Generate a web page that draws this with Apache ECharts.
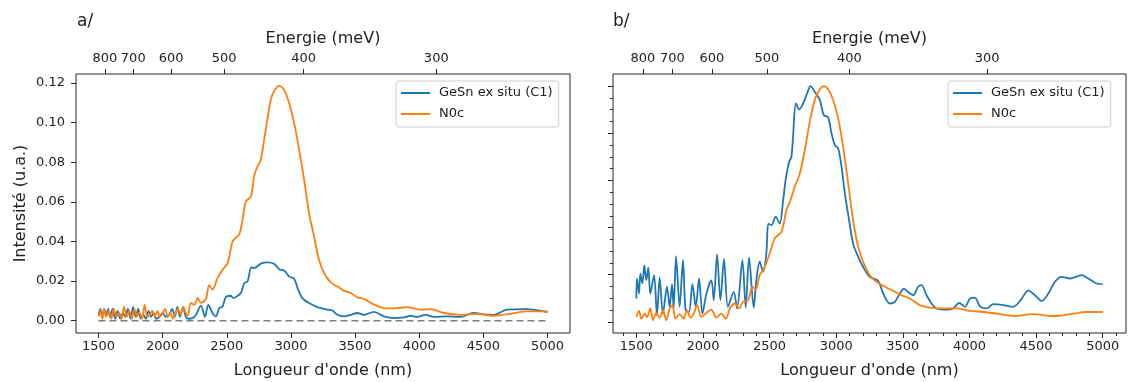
<!DOCTYPE html>
<html>
<head>
<meta charset="utf-8">
<script src="https://cdn.jsdelivr.net/npm/echarts@6/dist/echarts.min.js"></script>
<style>
html,body{margin:0;padding:0;background:#fff;}
#chart{width:1129px;height:382px;}
</style>
</head>
<body>
<div id="chart"></div>
<script>
// ---------- data ----------
const seriesNames = ['GeSn ex situ (C1)', 'N0c'];

// Panel a/ : raw intensity
const wlBlueA = [1500,1515,1530,1545,1560,1575,1590,1610,1630,1650,1670,1690,1710,1730,1750,1770,1790,1810,1830,1850,1870,1890,1910,1930,1950,1975,2000,2025,2050,2075,2095,2115,2135,2160,2180,2200,2234,2260,2299,2330,2356,2389,2415,2441,2467,2493,2532,2550,2571,2610,2636,2662,2692,2713,2765,2817,2869,2908,2947,2986,3025,3056,3089,3141,3206,3284,3323,3362,3414,3466,3518,3569,3647,3725,3803,3881,3932,3984,4049,4114,4217,4321,4425,4503,4580,4684,4840,5000];
const blueA = [0.003,0.006,0.002,0.006,0.003,0.006,0.002,0.006,0.001,0.005,0.001,0.004,0.002,0.006,0.001,0.007,0.002,0.006,0.001,0.003,0.001,0.005,0.002,0.004,0.001,0.002,0.004,0.002,0.003,0.006,0.002,0.007,0.002,0.007,0.002,0.001,0.0013,0.003,0.0076,0.002,0.008,0.0039,0.0022,0.0064,0.0072,0.012,0.0126,0.0115,0.012,0.014,0.019,0.0199,0.027,0.0266,0.0288,0.0295,0.0288,0.026,0.0254,0.0224,0.0212,0.0157,0.0114,0.0089,0.0069,0.0056,0.0052,0.003,0.0022,0.003,0.0039,0.003,0.0045,0.0022,0.0013,0.0017,0.0025,0.0019,0.003,0.0019,0.0022,0.0019,0.0039,0.0032,0.003,0.0056,0.0059,0.0044];

const wlOrangeA = [1500,1515,1530,1545,1560,1580,1600,1620,1640,1660,1680,1700,1720,1740,1760,1780,1800,1820,1840,1860,1880,1900,1920,1940,1960,1980,2000,2020,2040,2060,2080,2100,2120,2140,2160,2180,2195,2221,2247,2273,2299,2337,2363,2389,2428,2467,2506,2545,2571,2597,2623,2649,2688,2713,2740,2765,2800,2843,2870,2908,2947,2986,3025,3064,3103,3141,3180,3219,3258,3310,3362,3414,3466,3518,3569,3647,3725,3803,3906,4010,4088,4191,4321,4451,4580,4710,4840,5000];
const orangeA = [0.002,0.005,0.001,0.006,0.002,0.005,0.001,0.006,0.002,0.004,0.001,0.007,0.002,0.005,0.001,0.006,0.002,0.004,0.001,0.008,0.002,0.003,0.005,0.002,0.005,0.002,0.004,0.006,0.002,0.004,0.001,0.004,0.006,0.003,0.007,0.004,0.0025,0.009,0.008,0.0115,0.009,0.011,0.018,0.0157,0.0215,0.0257,0.029,0.04,0.042,0.0434,0.051,0.0602,0.0628,0.0729,0.078,0.0813,0.095,0.1116,0.116,0.1187,0.1166,0.11,0.0998,0.0863,0.0712,0.0544,0.0426,0.0308,0.0241,0.0194,0.0173,0.0151,0.014,0.0118,0.011,0.0081,0.0064,0.0062,0.0069,0.0056,0.0059,0.0039,0.003,0.0035,0.0025,0.0035,0.0047,0.0047];

// Panel b/ : normalized intensity
const wlBlueB = [1500,1505,1520,1530,1545,1560,1575,1590,1605,1633,1655,1675,1700,1730,1750,1768,1780,1798,1825,1850,1870,1895,1921,1946,1971,1996,2026,2063,2081,2106,2131,2158,2188,2231,2256,2296,2321,2346,2381,2401,2426,2451,2476,2491,2514,2546,2576,2602,2622,2647,2664,2677,2697,2722,2752,2782,2807,2839,2877,2907,2940,2965,2990,3015,3040,3065,3097,3127,3165,3202,3252,3315,3353,3403,3440,3478,3508,3540,3578,3615,3640,3678,3716,3753,3828,3878,3923,3966,4004,4041,4079,4129,4179,4254,4329,4384,4442,4492,4542,4592,4642,4692,4755,4842,4892,4955,5000];
const blueB = [0.099,0.184,0.12,0.205,0.163,0.24,0.177,0.23,0.12,0.198,0.028,0.188,0.035,0.149,0.064,0.16,0.057,0.279,0.064,0.262,0.05,0.042,0.16,0.064,0.184,0.035,0.12,0.177,0.092,0.286,0.092,0.266,0.064,0.127,0.057,0.262,0.061,0.273,0.061,0.177,0.255,0.212,0.29,0.417,0.41,0.446,0.417,0.516,0.608,0.679,0.7,0.792,0.926,0.901,0.926,0.969,1.0,0.976,0.941,0.877,0.867,0.799,0.75,0.735,0.658,0.545,0.431,0.332,0.276,0.233,0.191,0.174,0.12,0.078,0.085,0.12,0.141,0.127,0.113,0.149,0.156,0.113,0.078,0.057,0.052,0.057,0.081,0.064,0.099,0.103,0.066,0.057,0.075,0.071,0.064,0.092,0.134,0.113,0.089,0.12,0.17,0.191,0.184,0.198,0.184,0.163,0.16];

const wlOrangeB = [1500,1520,1538,1563,1580,1605,1625,1650,1675,1700,1725,1750,1770,1795,1825,1855,1880,1906,1931,1956,1988,2026,2063,2101,2138,2171,2206,2239,2271,2301,2339,2371,2396,2426,2464,2501,2539,2589,2627,2657,2689,2727,2764,2802,2839,2877,2907,2940,2977,3015,3052,3090,3127,3165,3202,3252,3303,3365,3428,3490,3553,3628,3703,3803,3903,4004,4104,4229,4329,4479,4629,4780,4880,5000];
const orangeB = [0.021,0.047,0.014,0.035,0.021,0.057,0.007,0.038,0.018,0.05,0.007,0.057,0.071,0.014,0.033,0.014,0.05,0.018,0.035,0.071,0.021,0.038,0.052,0.018,0.035,0.014,0.061,0.078,0.057,0.085,0.092,0.149,0.137,0.198,0.233,0.29,0.354,0.382,0.474,0.516,0.573,0.629,0.728,0.849,0.941,0.986,1.0,0.986,0.941,0.863,0.743,0.587,0.431,0.318,0.255,0.198,0.17,0.149,0.132,0.113,0.099,0.071,0.061,0.057,0.057,0.047,0.042,0.033,0.025,0.033,0.025,0.035,0.042,0.042];

// ---------- ticks ----------
const xTicks = [1500,2000,2500,3000,3500,4000,4500,5000];
const xMinorTicksB = [1400,1600,1700,1800,1900,2100,2200,2300,2400,2600,2700,2800,2900,3100,3200,3300,3400,3600,3700,3800,3900,4100,4200,4300,4400,4600,4700,4800,4900,5100];
const yTicksA = [0,0.02,0.04,0.06,0.08,0.10,0.12];
const yTicksB = [0,0.2,0.4,0.6,0.8,1.0];
const yMinorTicksB = [0.05,0.1,0.15,0.25,0.3,0.35,0.45,0.5,0.55,0.65,0.7,0.75,0.85,0.9,0.95];
const energyTicks = [800,700,600,500,400,300]; // meV
const HC = 1239841.98; // nm*meV

// ---------- helpers ----------
const zip = (xs, ys) => xs.map((x, i) => [x, ys[i]]);
const FONT = 'DejaVu Sans';
const TXT = '#222';
const AX = '#262626';
const XMIN = 1325, XMAX = 5175;
const energyPos = energyTicks.map(e => HC / e);

function bottomX(grid) {
  return {
    gridIndex: grid, type: 'value', position: 'bottom', min: XMIN, max: XMAX,
    name: "Longueur d'onde (nm)", nameLocation: 'middle', nameGap: 30,
    nameTextStyle: { fontFamily: FONT, fontSize: 16, color: TXT },
    axisLine: { show: false, onZero: false },
    axisTick: { show: true, length: 5, customValues: xTicks, lineStyle: { color: AX } },
    axisLabel: { customValues: xTicks, margin: 7, fontFamily: FONT, fontSize: 13, color: TXT,
      formatter: v => String(v) },
    splitLine: { show: false }
  };
}
function topX(grid) {
  return {
    gridIndex: grid, type: 'value', position: 'top', min: XMIN, max: XMAX,
    name: 'Energie (meV)', nameLocation: 'middle', nameGap: 22,
    nameTextStyle: { fontFamily: FONT, fontSize: 16, color: TXT },
    axisLine: { show: false, onZero: false },
    axisTick: { show: true, length: 5, customValues: energyPos, lineStyle: { color: AX } },
    axisLabel: { customValues: energyPos, margin: 9, fontFamily: FONT, fontSize: 13, color: TXT,
      formatter: v => String(Math.round(HC / v)) },
    splitLine: { show: false }
  };
}
function lineSeries(name, xi, yi, data, color) {
  return {
    name: name, type: 'line', xAxisIndex: xi, yAxisIndex: yi, data: data,
    symbol: 'none', smooth: 0.3, color: color,
    lineStyle: { width: 1.8, color: color }, emphasis: { disabled: true }, z: 3
  };
}
function legendAt(left) {
  return {
    data: seriesNames, orient: 'vertical', left: left, top: 81,
    icon: 'rect', itemWidth: 29, itemHeight: 2,
    padding: [4, 6, 5, 5], itemGap: 5,
    borderColor: '#d0d0d0', borderWidth: 1, borderRadius: 3, backgroundColor: 'rgba(255,255,255,0.85)',
    textStyle: { fontFamily: FONT, fontSize: 13, color: TXT, padding: [0, 0, 0, 4], lineHeight: 16 }
  };
}

const BLUE = '#1f77b4', ORANGE = '#ff7f0e';

const option = {
  animation: false,
  backgroundColor: '#fff',
  title: [
    { text: 'a/', left: 72, top: 8, textStyle: { fontFamily: FONT, fontSize: 17, fontWeight: 'normal', color: TXT } },
    { text: 'b/', left: 608, top: 8, textStyle: { fontFamily: FONT, fontSize: 17, fontWeight: 'normal', color: TXT } }
  ],
  legend: [legendAt(396), legendAt(948)],
  grid: [
    { left: 76, top: 74, width: 494, height: 259, outerBoundsMode: 'none', containLabel: false,
      show: true, borderColor: AX, borderWidth: 1, backgroundColor: 'transparent' },
    { left: 613, top: 74, width: 513, height: 259, outerBoundsMode: 'none', containLabel: false,
      show: true, borderColor: AX, borderWidth: 1, backgroundColor: 'transparent' }
  ],
  xAxis: [
    bottomX(0), topX(0), bottomX(1), topX(1),
    {
      gridIndex: 1, type: 'value', position: 'bottom', offset: 0, min: XMIN, max: XMAX,
      axisLine: { show: false, onZero: false },
      axisTick: { show: true, length: 3, customValues: xMinorTicksB, lineStyle: { color: AX, width: 1 } },
      axisLabel: { show: false, customValues: xMinorTicksB }, splitLine: { show: false }
    }
  ],
  yAxis: [
    {
      gridIndex: 0, type: 'value', position: 'left', min: -0.0062, max: 0.1246,
      name: 'Intensité (u.a.)', nameLocation: 'middle', nameGap: 47,
      nameTextStyle: { fontFamily: FONT, fontSize: 16, color: TXT },
      axisLine: { show: false, onZero: false },
      axisTick: { show: true, length: 5, customValues: yTicksA, lineStyle: { color: AX } },
      axisLabel: { customValues: yTicksA, margin: 11, fontFamily: FONT, fontSize: 13, color: TXT,
        formatter: v => v.toFixed(2) },
      splitLine: { show: false }
    },
    {
      gridIndex: 1, type: 'value', position: 'left', min: -0.047, max: 1.051,
      axisLine: { show: false, onZero: false },
      axisTick: { show: true, length: 5, customValues: yTicksB, lineStyle: { color: AX } },
      axisLabel: { show: false, customValues: yTicksB },
      splitLine: { show: false }
    },
    {
      gridIndex: 1, type: 'value', position: 'left', offset: 0, min: -0.047, max: 1.051,
      axisLine: { show: false, onZero: false },
      axisTick: { show: true, length: 3, customValues: yMinorTicksB, lineStyle: { color: AX } },
      axisLabel: { show: false }, splitLine: { show: false }
    }
  ],
  series: [
    {
      name: 'zero', type: 'line', xAxisIndex: 0, yAxisIndex: 0, data: [[1500, 0], [5000, 0]],
      symbol: 'none', lineStyle: { color: '#808080', width: 1.6, type: [7, 4] }, z: 2, silent: true
    },
    lineSeries(seriesNames[0], 0, 0, zip(wlBlueA, blueA), BLUE),
    lineSeries(seriesNames[1], 0, 0, zip(wlOrangeA, orangeA), ORANGE),
    lineSeries(seriesNames[0], 2, 1, zip(wlBlueB, blueB), BLUE),
    lineSeries(seriesNames[1], 2, 1, zip(wlOrangeB, orangeB), ORANGE)
  ]
};

const chart = echarts.init(document.getElementById('chart'), null, { renderer: 'canvas' });
chart.setOption(option);
</script>
</body>
</html>
